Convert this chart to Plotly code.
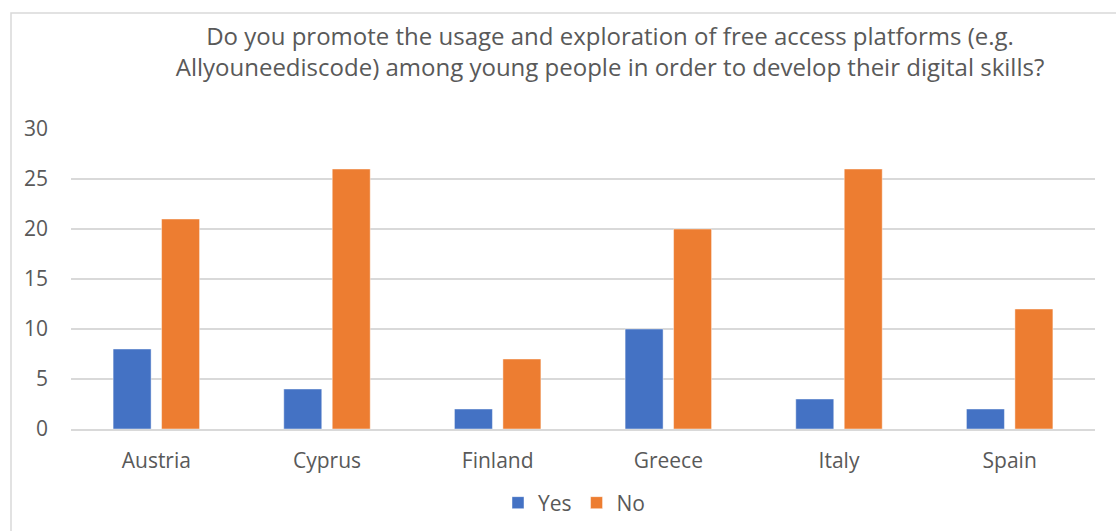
import plotly.graph_objects as go

categories = ["Austria", "Cyprus", "Finland", "Greece", "Italy", "Spain"]
yes_values = [8, 4, 2, 10, 3, 2]
no_values = [21, 26, 7, 20, 26, 12]
series_names = ["Yes", "No"]
title_text = ("Do you promote the usage and exploration of free access platforms (e.g.<br>"
              "Allyouneediscode) among young people in order to develop their digital skills?")
y_ticks = [0, 5, 10, 15, 20, 25, 30]

W, H = 1116, 531
ML, MR, MT, MB = 71, 21, 129, 102
pw, ph = W - ML - MR, H - MT - MB

FONT = "Open Sans"
GREY = "#595959"

fig = go.Figure()
fig.add_trace(go.Bar(x=categories, y=yes_values, name=series_names[0],
                     marker=dict(color="#4472C4", line=dict(color="rgba(255,255,255,0.45)", width=1))))
fig.add_trace(go.Bar(x=categories, y=no_values, name=series_names[1],
                     marker=dict(color="#ED7D31", line=dict(color="rgba(255,255,255,0.45)", width=1))))

fig.update_layout(
    width=W, height=H,
    margin=dict(l=ML, r=MR, t=MT, b=MB, autoexpand=False),
    paper_bgcolor="white", plot_bgcolor="white",
    barmode="group", bargap=0.432, bargroupgap=0.216,
    font=dict(family=FONT, color=GREY),
    title=dict(text=title_text, x=610 / W, xanchor="center", xref="container",
               y=1 - 45 / H, yanchor="middle", yref="container",
               font=dict(family=FONT, size=24, color=GREY)),
    legend=dict(orientation="h", x=(574 - ML) / pw, xanchor="center",
                y=-(503 - (H - MB)) / ph, yanchor="middle",
                font=dict(family=FONT, size=21, color=GREY),
                itemwidth=30, traceorder="normal"),
    shapes=[dict(type="rect", xref="paper", yref="paper",
                 x0=(11 - ML) / pw, x1=(W + 5 - ML) / pw,
                 y0=-(H + 5 - (H - MB)) / ph, y1=(H - MB - 13) / ph,
                 line=dict(color="#d9d9d9", width=1.5), fillcolor="rgba(0,0,0,0)", layer="below")],
)
fig.update_xaxes(showgrid=False, showline=True, linecolor="#d9d9d9", linewidth=1.5,
                 ticks="", tickfont=dict(family=FONT, size=21, color=GREY),
                 ticklabelstandoff=12)
fig.update_yaxes(range=[0, 30], tickvals=y_ticks, showgrid=True, gridcolor="#d9d9d9",
                 gridwidth=1.5, zeroline=False, showline=False, ticks="",
                 tickfont=dict(family=FONT, size=21, color=GREY), ticklabelstandoff=22)

fig.write_html("out.html")
